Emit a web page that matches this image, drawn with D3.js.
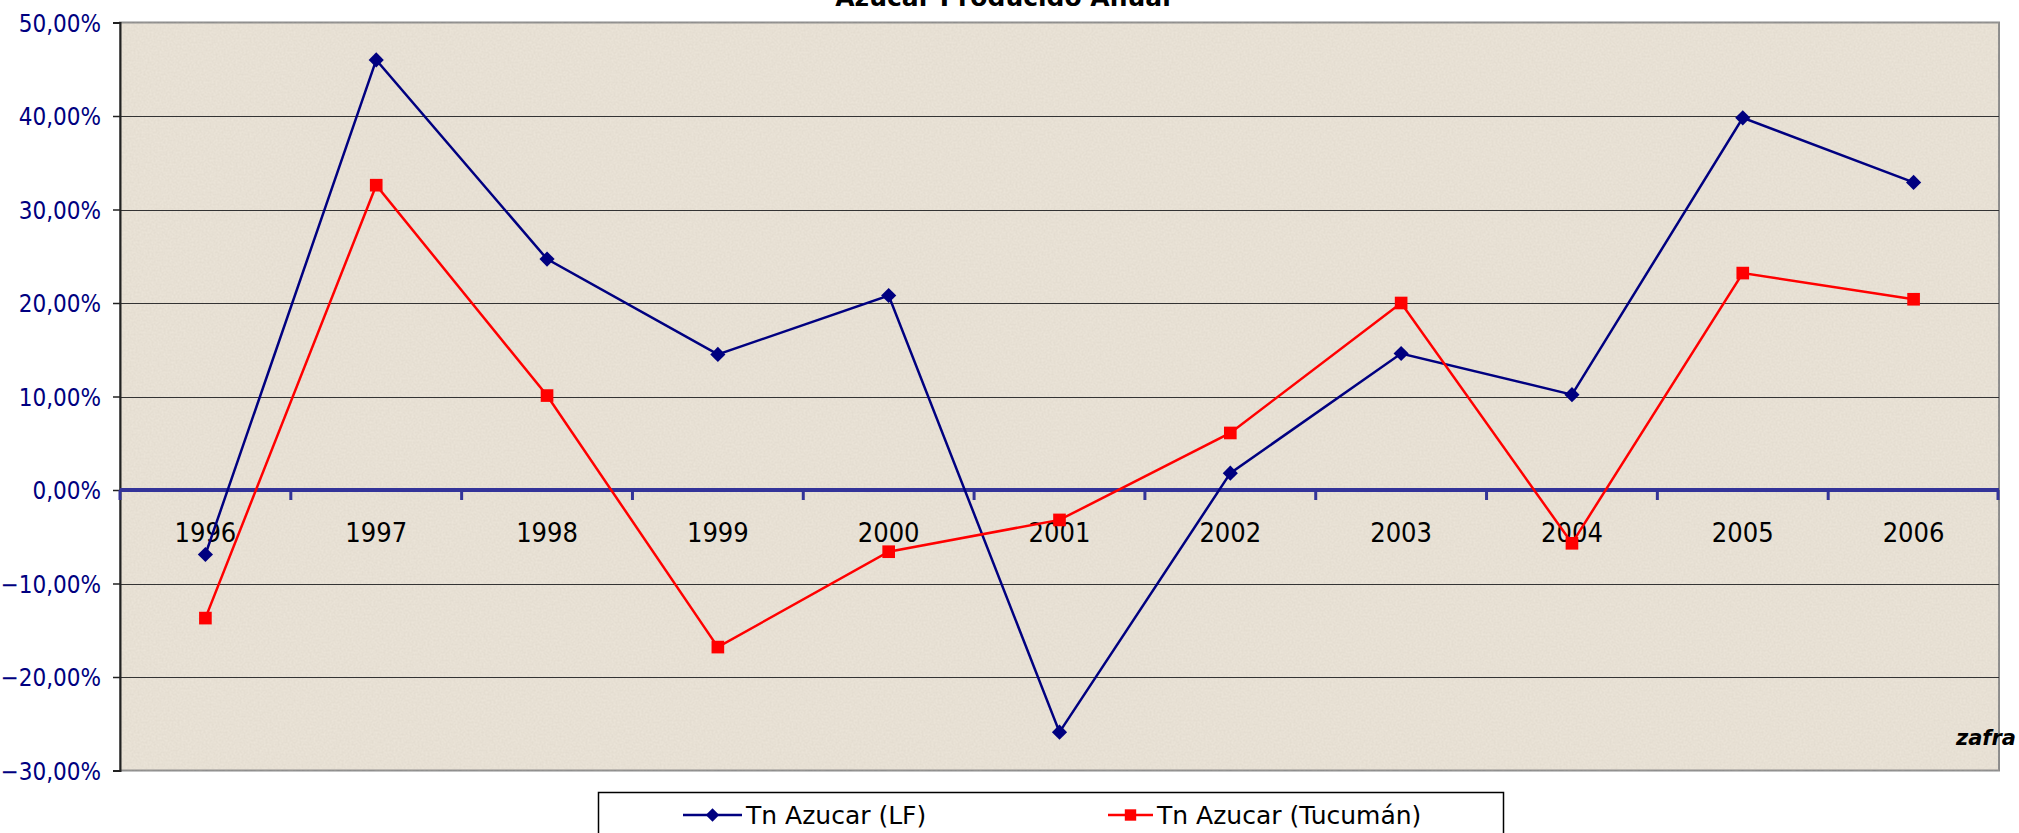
<!DOCTYPE html>
<html>
<head>
<meta charset="utf-8">
<script src="https://cdn.jsdelivr.net/npm/d3@7"></script>
<style>
    body { margin: 0; background: #ffffff; overflow: hidden; }
    svg { display: block; }
    .ylab { font-family: "DejaVu Sans Condensed", "DejaVu Sans", sans-serif; font-size: 24px; fill: #000080; }
    .xlab { font-family: "DejaVu Sans Condensed", "DejaVu Sans", sans-serif; font-size: 27px; fill: #000000; }
    .leg { font-family: "DejaVu Sans", sans-serif; font-size: 25px; fill: #000000; }
</style>
</head>
<body>
<div id="chart"></div>
<script>
// data
var years = ['1996', '1997', '1998', '1999', '2000', '2001', '2002', '2003', '2004', '2005', '2006'];
var lfValues = [-0.069, 0.460, 0.247, 0.145, 0.208, -0.259, 0.018, 0.146, 0.102, 0.398, 0.329];
var tucumanValues = [-0.137, 0.326, 0.101, -0.168, -0.066, -0.032, 0.061, 0.200, -0.057, 0.232, 0.204];
var yTicks = [-0.3, -0.2, -0.1, 0, 0.1, 0.2, 0.3, 0.4, 0.5];
var seriesNames = ['Tn Azucar (LF)', 'Tn Azucar (Tucumán)'];

var W = 2019, H = 833;
var plot = {left: 120, right: 1999, top: 22.5, bottom: 770.5};

var svg = d3.select('#chart').append('svg')
    .attr('width', W)
    .attr('height', H);

var x = d3.scaleBand().domain(years).range([plot.left, plot.right]).padding(0);
var y = d3.scaleLinear().domain([-0.3, 0.5]).range([plot.bottom, plot.top]);

function xc(d){ return x(d) + x.bandwidth() / 2; }

function pct(v){
    // excel style: 50,00%
    return d3.format('.2f')(v * 100).replace('.', ',') + '%';
}

// some grain for the background, like the excel texture
var defs = svg.append('defs');
var grain = defs.append('filter').attr('id', 'grain')
    .attr('x', 0).attr('y', 0).attr('width', '100%').attr('height', '100%');
grain.append('feTurbulence')
    .attr('type', 'fractalNoise')
    .attr('baseFrequency', 0.5)
    .attr('numOctaves', 2)
    .attr('seed', 3)
    .attr('result', 'noise');
grain.append('feColorMatrix')
    .attr('in', 'noise')
    .attr('type', 'matrix')
    .attr('values', '0 0 0 0 0.55  0 0 0 0 0.5  0 0 0 0 0.42  0 0 0 0.32 -0.06');

// plot area
svg.append('rect')
    .attr('x', plot.left).attr('y', plot.top)
    .attr('width', plot.right - plot.left)
    .attr('height', plot.bottom - plot.top)
    .attr('fill', '#ebe4d8')
    .attr('stroke', '#8c8c8c')
    .attr('stroke-width', 2);
svg.append('rect')
    .attr('x', plot.left).attr('y', plot.top)
    .attr('width', plot.right - plot.left)
    .attr('height', plot.bottom - plot.top)
    .attr('filter', 'url(#grain)');

// grid lines
svg.append('g').selectAll('line')
    .data(yTicks.filter(function(d){ return d !== 0 && d !== -0.3 && d !== 0.5; }))
    .enter().append('line')
    .attr('x1', plot.left).attr('x2', plot.right)
    .attr('y1', function(d){ return Math.round(y(d)) + 0.5; })
    .attr('y2', function(d){ return Math.round(y(d)) + 0.5; })
    .attr('stroke', '#333333')
    .attr('stroke-width', 1.2);

// y axis
var yAxis = d3.axisLeft(y).tickValues(yTicks).tickFormat(pct).tickSize(7).tickPadding(12);
var yg = svg.append('g')
    .attr('transform', 'translate(' + plot.left + ',0)')
    .call(yAxis);
yg.select('.domain').attr('stroke', '#222222').attr('stroke-width', 2);
yg.selectAll('.tick line').attr('stroke', '#222222').attr('stroke-width', 1.5);
yg.selectAll('.tick text').attr('class', 'ylab').attr('font-family', null).attr('font-size', null)
    .attr('fill', null).attr('dy', '0.36em');

// zero line with category ticks
var zeroY = y(0);
svg.append('line')
    .attr('x1', plot.left).attr('x2', plot.right)
    .attr('y1', zeroY).attr('y2', zeroY)
    .attr('stroke', '#333399')
    .attr('stroke-width', 4);
var bounds = years.map(function(d){ return x(d); }).concat([plot.right - 1]);
svg.append('g').selectAll('line')
    .data(bounds)
    .enter().append('line')
    .attr('x1', function(d){ return d; }).attr('x2', function(d){ return d; })
    .attr('y1', zeroY).attr('y2', zeroY + 10)
    .attr('stroke', '#333399')
    .attr('stroke-width', 3);

// category labels
svg.append('g').selectAll('text')
    .data(years)
    .enter().append('text')
    .attr('class', 'xlab')
    .attr('x', xc)
    .attr('y', zeroY + 52)
    .attr('text-anchor', 'middle')
    .text(function(d){ return d; });

// lines
var line = d3.line()
    .x(function(d, i){ return xc(years[i]); })
    .y(function(d){ return y(d); });

svg.append('path')
    .datum(lfValues)
    .attr('d', line)
    .attr('fill', 'none')
    .attr('stroke', '#000080')
    .attr('stroke-width', 2.5);

svg.append('path')
    .datum(tucumanValues)
    .attr('d', line)
    .attr('fill', 'none')
    .attr('stroke', '#ff0000')
    .attr('stroke-width', 2.5);

// markers, the diamond is a square turned 45 degrees in excel
var diamond = d3.symbol().type(d3.symbolSquare).size(115);
var square = d3.symbol().type(d3.symbolSquare).size(160);

svg.append('g').selectAll('path')
    .data(lfValues)
    .enter().append('path')
    .attr('d', diamond)
    .attr('transform', function(d, i){ return 'translate(' + xc(years[i]) + ',' + y(d) + ') rotate(45)'; })
    .attr('fill', '#000080');

svg.append('g').selectAll('path')
    .data(tucumanValues)
    .enter().append('path')
    .attr('d', square)
    .attr('transform', function(d, i){ return 'translate(' + xc(years[i]) + ',' + y(d) + ')'; })
    .attr('fill', '#ff0000');

// title, cut at the top like the original
svg.append('text')
    .attr('x', 1003)
    .attr('y', 6)
    .attr('text-anchor', 'middle')
    .attr('font-family', '"DejaVu Sans", sans-serif')
    .attr('font-weight', 'bold')
    .attr('font-size', 25)
    .text('Azucar Producido Anual');

// zafra tag
svg.append('text')
    .attr('x', 2016)
    .attr('y', 745)
    .attr('text-anchor', 'end')
    .attr('font-family', '"DejaVu Sans", sans-serif')
    .attr('font-weight', 'bold')
    .attr('font-style', 'italic')
    .attr('font-size', 21)
    .text('zafra');

// legend
var legend = svg.append('g');
legend.append('rect')
    .attr('x', 598.5).attr('y', 792.5)
    .attr('width', 905).attr('height', 60)
    .attr('fill', '#ffffff')
    .attr('stroke', '#000000')
    .attr('stroke-width', 1.5);

var legItems = [
    {name: seriesNames[0], color: '#000080', sym: d3.symbol().type(d3.symbolSquare).size(90), x0: 683, x1: 742, rot: 45},
    {name: seriesNames[1], color: '#ff0000', sym: d3.symbol().type(d3.symbolSquare).size(130), x0: 1108, x1: 1153, rot: 0}
];
var legY = 815;
var li = legend.selectAll('g.item').data(legItems).enter().append('g').attr('class', 'item');
li.append('line')
    .attr('x1', function(d){ return d.x0; }).attr('x2', function(d){ return d.x1; })
    .attr('y1', legY).attr('y2', legY)
    .attr('stroke', function(d){ return d.color; })
    .attr('stroke-width', 2.5);
li.append('path')
    .attr('d', function(d){ return d.sym(); })
    .attr('transform', function(d){ return 'translate(' + ((d.x0 + d.x1) / 2) + ',' + legY + ') rotate(' + d.rot + ')'; })
    .attr('fill', function(d){ return d.color; });
li.append('text')
    .attr('class', 'leg')
    .attr('x', function(d){ return d.x1 + 4; })
    .attr('y', 824)
    .text(function(d){ return d.name; });
</script>
</body>
</html>
